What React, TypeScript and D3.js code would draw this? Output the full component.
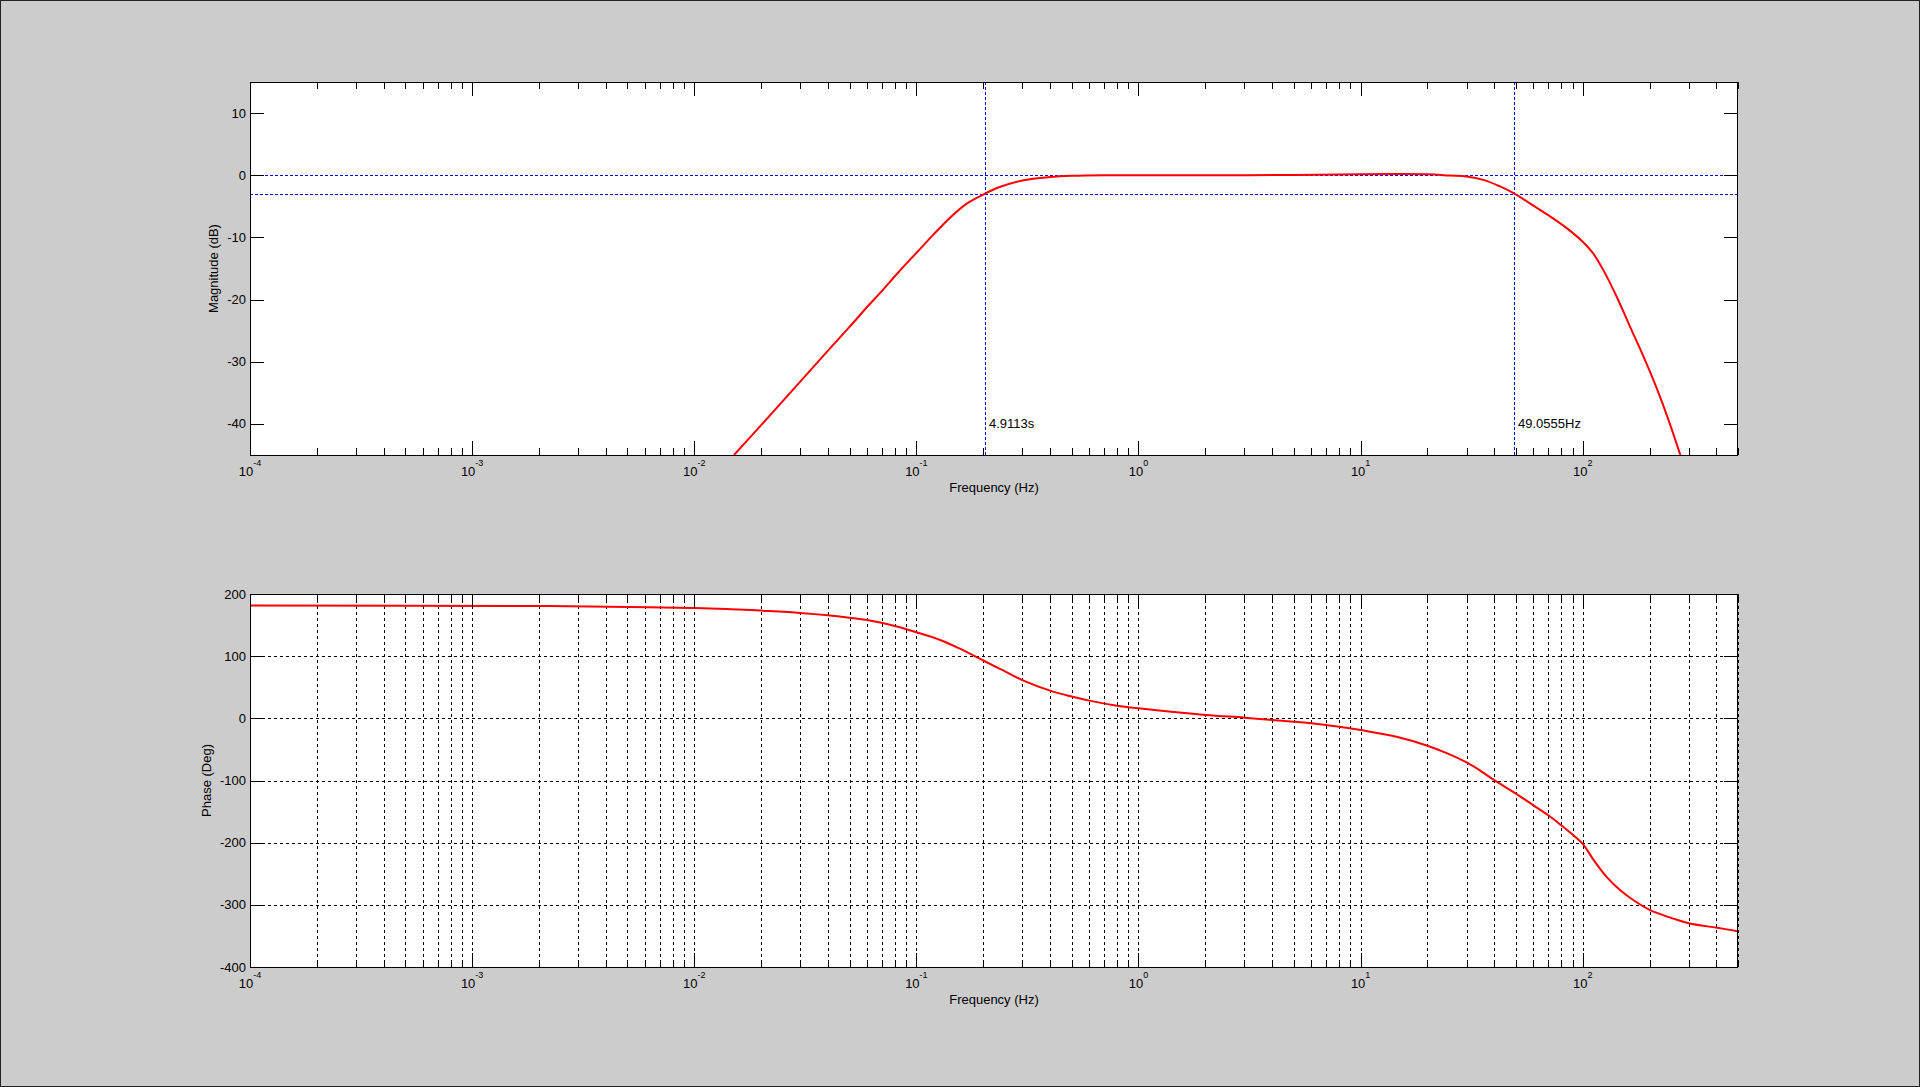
import React from 'react';
import * as d3 from 'd3';

// values
const magFreq = [0.0151, 0.02, 0.03, 0.04, 0.05, 0.06, 0.07, 0.084, 0.1, 0.119, 0.141, 0.168, 0.2, 0.237, 0.3, 0.4, 0.5, 0.7, 1, 2, 5, 10, 15, 20, 25.3, 30, 35.7, 42.4, 49, 60, 71.2, 84.7, 100, 111, 124, 142, 163, 188, 215, 243, 275];
const magDb = [-45, -40.2, -33.2, -28.2, -24.4, -21.2, -18.6, -15.4, -12.5, -9.6, -6.9, -4.6, -3.1, -1.9, -0.85, -0.3, -0.1, 0, 0, 0, 0.05, 0.15, 0.2, 0.15, -0.05, -0.2, -0.75, -1.8, -2.9, -4.9, -6.6, -8.5, -10.7, -12.5, -15.3, -19.5, -24.3, -29.2, -34.2, -39.3, -45];

const phaseFreq = [1e-4, 0.0022, 0.0062, 0.01, 0.014, 0.018, 0.02, 0.03, 0.04, 0.05, 0.06, 0.08, 0.1, 0.128, 0.157, 0.2, 0.246, 0.3, 0.4, 0.5, 0.6, 0.8, 1, 2, 3, 4, 5, 6, 8, 10, 14.5, 20, 24.4, 30, 34.5, 40, 50, 60, 70, 80, 90, 100, 112, 128, 148, 170, 200, 258, 300, 404, 500];
const phaseDeg = [181.5, 180.5, 178.5, 177.4, 175.8, 174.2, 173.3, 169.6, 165.8, 161.8, 158, 148.5, 138.5, 126, 112, 93, 77, 61.5, 44.5, 35, 28.5, 20.4, 16.1, 5.4, 1.1, -2.7, -5.4, -8, -13.4, -18.8, -29.6, -44, -56, -71, -84, -99.5, -121, -140, -156, -172, -187, -202, -228, -255, -277, -293, -308, -322.6, -329.6, -337, -342.5];

const magTicks = [10, 0, -10, -20, -30, -40];
const phaseTicks = [200, 100, 0, -100, -200, -300, -400];
const decades = [-4, -3, -2, -1, 0, 1, 2];

// cursor markers
const cutoffLow = 1 / 4.9113;
const cutoffHigh = 49.0555;
const cutoffLabels = ['4.9113s', '49.0555Hz'];
const refLevels = [0, -3];

const W = 1920;
const H = 1087;
const left = 250;
const right = 1738;
const font = "'Liberation Sans', Arial, Helvetica, sans-serif";

const x = d3.scaleLog().domain([1e-4, 500]).range([left, right]);

const xTicks: { v: number; major: boolean; exp: number }[] = [];
decades.forEach((k) => {
  for (let m = 1; m <= 9; m++) {
    const v = m * Math.pow(10, k);
    if (v >= 1e-4 && v <= 500) xTicks.push({ v, major: m === 1, exp: k });
  }
});

type PanelProps = {
  top: number;
  bottom: number;
  domain: [number, number];
  yTicks: number[];
  grid: boolean;
  ylabel: string;
  ylabelX: number;
  id: string;
  children: (y: d3.ScaleLinear<number, number>) => React.ReactNode;
};

const Panel = ({ top, bottom, domain, yTicks, grid, ylabel, ylabelX, id, children }: PanelProps) => {
  const y = d3.scaleLinear().domain(domain).range([bottom, top]);
  const major = 14;
  const minor = 7;
  return (
    <g>
      <rect x={left} y={top} width={right - left} height={bottom - top} fill="#fff" />
      <clipPath id={id}>
        <rect x={left} y={top} width={right - left} height={bottom - top} />
      </clipPath>
      {grid && (
        <g stroke="#000" strokeWidth={1} strokeDasharray="3,3" shapeRendering="crispEdges">
          {xTicks.map((t, i) => (
            <line key={'gx' + i} x1={Math.round(x(t.v)) + 0.5} x2={Math.round(x(t.v)) + 0.5} y1={top} y2={bottom} />
          ))}
          {yTicks.map((t) => (
            <line key={'gy' + t} x1={left} x2={right} y1={Math.round(y(t)) + 0.5} y2={Math.round(y(t)) + 0.5} />
          ))}
        </g>
      )}
      <g clipPath={`url(#${id})`}>{children(y)}</g>
      <g stroke="#000" strokeWidth={1} shapeRendering="crispEdges">
        {xTicks.map((t, i) => {
          const px = Math.round(x(t.v)) + 0.5;
          const len = t.major ? major : minor;
          return (
            <g key={'tx' + i}>
              <line x1={px} x2={px} y1={bottom} y2={bottom - len} />
              <line x1={px} x2={px} y1={top} y2={top + len} />
            </g>
          );
        })}
        {yTicks.map((t) => {
          const py = Math.round(y(t)) + 0.5;
          return (
            <g key={'ty' + t}>
              <line x1={left} x2={left + major} y1={py} y2={py} />
              <line x1={right} x2={right - major} y1={py} y2={py} />
            </g>
          );
        })}
        <rect x={left + 0.5} y={top + 0.5} width={right - left - 1} height={bottom - top} fill="none" />
      </g>
      <g fontFamily={font} fill="#000">
        {yTicks.map((t) => (
          <text key={'ly' + t} x={left - 4} y={y(t)} fontSize={13} textAnchor="end" dominantBaseline="central">
            {t}
          </text>
        ))}
        {xTicks.filter((t) => t.major).map((t) => (
          <text key={'lx' + t.exp} x={x(t.v)} y={bottom + 21} fontSize={13} textAnchor="middle">
            10
            <tspan fontSize={9} dy={-10}>{t.exp}</tspan>
          </text>
        ))}
        <text x={(left + right) / 2} y={bottom + 32} fontSize={13} textAnchor="middle" dominantBaseline="central">
          Frequency (Hz)
        </text>
        <text
          transform={`translate(${ylabelX},${(top + bottom) / 2}) rotate(-90)`}
          fontSize={13}
          textAnchor="middle"
          dominantBaseline="central"
        >
          {ylabel}
        </text>
      </g>
    </g>
  );
};

const App = () => {
  const magData = magFreq.map((f, i) => [f, magDb[i]] as [number, number]);
  const phaseData = phaseFreq.map((f, i) => [f, phaseDeg[i]] as [number, number]);

  return (
    <svg width={W} height={H} style={{ position: 'absolute', left: 0, top: 0 }}>
      <rect x={0} y={0} width={W} height={H} fill="#cccccc" />
      <rect x={0.5} y={0.5} width={W - 1} height={H - 1} fill="none" stroke="#222" strokeWidth={1} />

      <Panel top={82} bottom={455} domain={[-45, 15]} yTicks={magTicks} grid={false} ylabel="Magnitude (dB)" ylabelX={213} id="clipMag">
        {(y) => {
          const line = d3.line<[number, number]>().x((d) => x(d[0])).y((d) => y(d[1])).curve(d3.curveCatmullRom.alpha(0.5));
          return (
            <g>
              <g stroke="#0000ff" strokeWidth={1} strokeDasharray="3,2" shapeRendering="crispEdges">
                {refLevels.map((r) => (
                  <line key={'r' + r} x1={left} x2={right} y1={Math.round(y(r)) + 0.5} y2={Math.round(y(r)) + 0.5} />
                ))}
                {[cutoffLow, cutoffHigh].map((c, i) => (
                  <line key={'c' + i} x1={Math.round(x(c)) + 0.5} x2={Math.round(x(c)) + 0.5} y1={82} y2={455} />
                ))}
              </g>
              <path d={line(magData) || ''} fill="none" stroke="#ff0000" strokeWidth={2} strokeLinejoin="round" />
              {[cutoffLow, cutoffHigh].map((c, i) => (
                <text key={'t' + i} x={x(c) + 4} y={y(-40)} fontFamily={font} fontSize={13} dominantBaseline="central" fill="#000">
                  {cutoffLabels[i]}
                </text>
              ))}
            </g>
          );
        }}
      </Panel>

      <Panel top={594} bottom={967} domain={[-400, 200]} yTicks={phaseTicks} grid={true} ylabel="Phase (Deg)" ylabelX={206} id="clipPhase">
        {(y) => {
          const line = d3.line<[number, number]>().x((d) => x(d[0])).y((d) => y(d[1])).curve(d3.curveCatmullRom.alpha(0.5));
          return <path d={line(phaseData) || ''} fill="none" stroke="#ff0000" strokeWidth={2} strokeLinejoin="round" />;
        }}
      </Panel>
    </svg>
  );
};

export default App;
